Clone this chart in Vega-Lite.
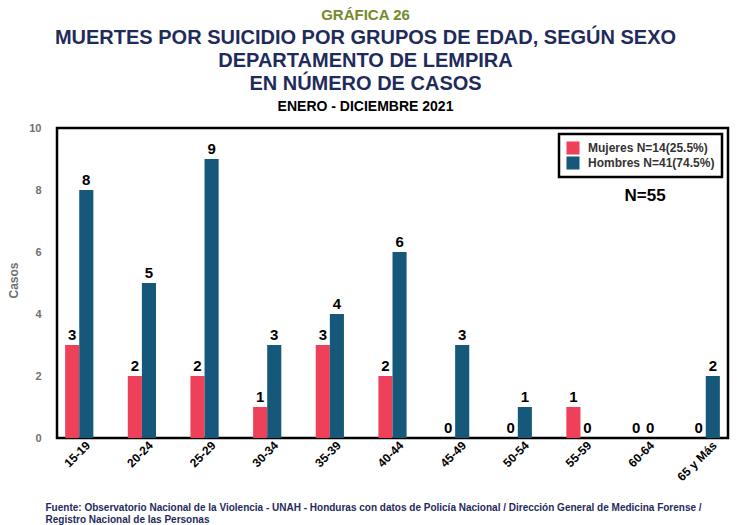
{
  "$schema": "https://vega.github.io/schema/vega-lite/v6.json",
  "width": 671,
  "height": 310,
  "autosize": {"type": "none"},
  "padding": {"left": 57, "top": 128, "right": 12, "bottom": 87},
  "background": "white",
  "title": {
    "text": "GRÁFICA 26",
    "subtitle": ["MUERTES POR SUICIDIO POR GRUPOS DE EDAD, SEGÚN SEXO", "DEPARTAMENTO DE LEMPIRA", "EN NÚMERO DE CASOS"],
    "anchor": "middle",
    "dx": -27,
    "font": "Liberation Sans",
    "fontSize": 15,
    "fontWeight": "bold",
    "color": "#76882c",
    "subtitleFont": "Liberation Sans",
    "subtitleFontSize": 20,
    "subtitleFontWeight": "bold",
    "subtitleColor": "#1f2b5b",
    "subtitleLineHeight": 23,
    "subtitlePadding": 5,
    "offset": 5
  },
  "data": {
    "values": [
      {"grupo": "15-19", "sexo": "Mujeres", "casos": 3},
      {"grupo": "15-19", "sexo": "Hombres", "casos": 8},
      {"grupo": "20-24", "sexo": "Mujeres", "casos": 2},
      {"grupo": "20-24", "sexo": "Hombres", "casos": 5},
      {"grupo": "25-29", "sexo": "Mujeres", "casos": 2},
      {"grupo": "25-29", "sexo": "Hombres", "casos": 9},
      {"grupo": "30-34", "sexo": "Mujeres", "casos": 1},
      {"grupo": "30-34", "sexo": "Hombres", "casos": 3},
      {"grupo": "35-39", "sexo": "Mujeres", "casos": 3},
      {"grupo": "35-39", "sexo": "Hombres", "casos": 4},
      {"grupo": "40-44", "sexo": "Mujeres", "casos": 2},
      {"grupo": "40-44", "sexo": "Hombres", "casos": 6},
      {"grupo": "45-49", "sexo": "Mujeres", "casos": 0},
      {"grupo": "45-49", "sexo": "Hombres", "casos": 3},
      {"grupo": "50-54", "sexo": "Mujeres", "casos": 0},
      {"grupo": "50-54", "sexo": "Hombres", "casos": 1},
      {"grupo": "55-59", "sexo": "Mujeres", "casos": 1},
      {"grupo": "55-59", "sexo": "Hombres", "casos": 0},
      {"grupo": "60-64", "sexo": "Mujeres", "casos": 0},
      {"grupo": "60-64", "sexo": "Hombres", "casos": 0},
      {"grupo": "65 y Más", "sexo": "Mujeres", "casos": 0},
      {"grupo": "65 y Más", "sexo": "Hombres", "casos": 2}
    ]
  },
  "config": {
    "view": {"stroke": "black", "strokeWidth": 2.5},
    "font": "Liberation Sans",
    "legend": {"strokeColor": "black", "strokeWidth": 2.5, "fillColor": "white", "padding": 7}
  },
  "resolve": {"axis": {"x": "independent"}},
  "layer": [
    {
      "mark": {"type": "bar"},
      "encoding": {
        "x": {
          "field": "grupo", "type": "nominal",
          "sort": ["15-19","20-24","25-29","30-34","35-39","40-44","45-49","50-54","55-59","60-64","65 y Más"],
          "scale": {"paddingInner": 0.55, "paddingOuter": 0.13},
          "axis": {
            "orient": "bottom",
            "labelAngle": -45,
            "labelAlign": "right",
            "labelBaseline": "middle",
            "labelOffset": 9,
            "labelPadding": 5,
            "labelFontSize": 12,
            "labelFontWeight": "bold",
            "labelColor": "black",
            "ticks": false,
            "domain": false,
            "title": ["Fuente: Observatorio Nacional de la Violencia - UNAH - Honduras con datos de Policía Nacional / Dirección General de Medicina Forense /", "Registro Nacional de las Personas"],
            "titleFontSize": 10,
            "titleFontWeight": "bold",
            "titleColor": "#1f2b5b",
            "titleAnchor": "start",
            "titleAlign": "left",
            "titleBaseline": "alphabetic",
            "titleX": -12,
            "titleY": 72,
            "titleLineHeight": 12
          }
        },
        "xOffset": {"field": "sexo", "type": "nominal", "sort": ["Mujeres", "Hombres"], "scale": {"paddingInner": 0}},
        "y": {
          "field": "casos", "type": "quantitative",
          "scale": {"domain": [0, 10]},
          "axis": {
            "values": [0, 2, 4, 6, 8, 10],
            "grid": false,
            "ticks": false,
            "domain": false,
            "labelPadding": 16,
            "labelFontSize": 11,
            "labelFontWeight": "bold",
            "labelColor": "#707070",
            "title": "Casos",
            "titleFontSize": 12,
            "titleFontWeight": "bold",
            "titleColor": "#707070",
            "titlePadding": 8,
            "titleY": 152
          }
        },
        "color": {
          "field": "sexo", "type": "nominal",
          "sort": ["Mujeres", "Hombres"],
          "scale": {"domain": ["Mujeres", "Hombres"], "range": ["#ee4058", "#15587a"]},
          "legend": {
            "orient": "top-right",
            "offset": 6,
            "title": null,
            "labelExpr": "datum.label == 'Mujeres' ? 'Mujeres N=14(25.5%)' : 'Hombres N=41(74.5%)'",
            "labelFontSize": 12,
            "labelFontWeight": "bold",
            "labelColor": "#333333",
            "labelOffset": 8,
            "symbolType": "square",
            "symbolSize": 170,
            "symbolStrokeWidth": 0,
            "rowPadding": 1
          }
        }
      }
    },
    {
      "mark": {"type": "text", "dy": -10, "fontWeight": "bold", "fontSize": 15, "color": "black"},
      "encoding": {
        "x": {
          "field": "grupo", "type": "nominal",
          "sort": ["15-19","20-24","25-29","30-34","35-39","40-44","45-49","50-54","55-59","60-64","65 y Más"],
          "axis": {
            "orient": "top",
            "labels": false,
            "ticks": false,
            "domain": false,
            "title": "ENERO - DICIEMBRE 2021",
            "titleFontSize": 14,
            "titleFontWeight": "bold",
            "titleColor": "black",
            "titleAnchor": "start",
            "titleAlign": "center",
            "titleBaseline": "alphabetic",
            "titleX": 308,
            "titleY": -18
          }
        },
        "xOffset": {"field": "sexo", "type": "nominal", "sort": ["Mujeres", "Hombres"]},
        "y": {"field": "casos", "type": "quantitative"},
        "text": {"field": "casos", "type": "quantitative"}
      }
    },
    {
      "data": {"values": [{"grupo": "60-64", "v": 7.8, "t": "N=55"}]},
      "mark": {"type": "text", "fontWeight": "bold", "fontSize": 17, "color": "black", "baseline": "middle", "dx": 2},
      "encoding": {
        "x": {"field": "grupo", "type": "nominal", "axis": null,
          "sort": ["15-19","20-24","25-29","30-34","35-39","40-44","45-49","50-54","55-59","60-64","65 y Más"]},
        "y": {"field": "v", "type": "quantitative"},
        "text": {"field": "t"}
      }
    }
  ]
}
